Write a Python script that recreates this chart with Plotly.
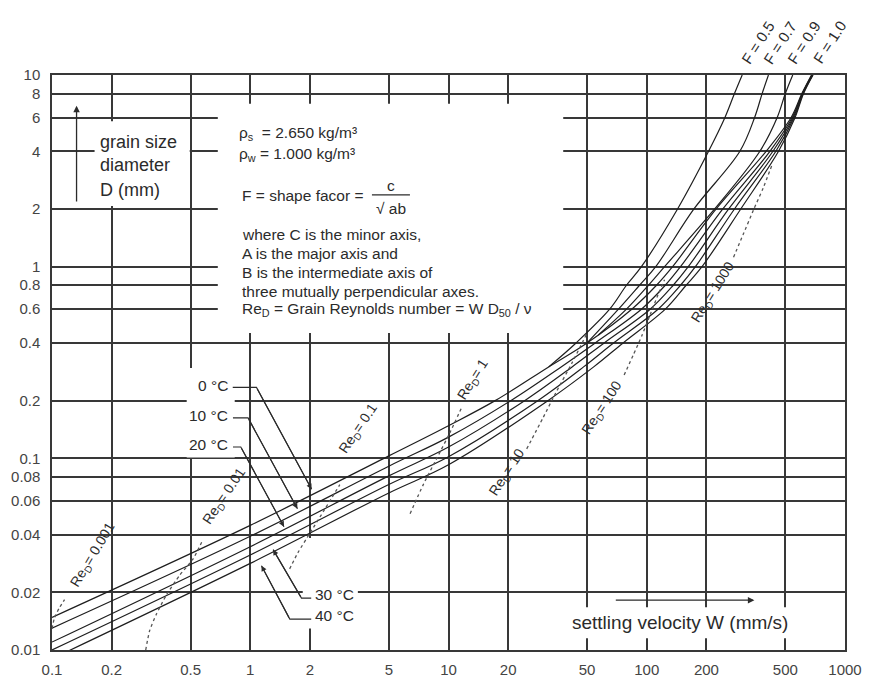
import math
import plotly.graph_objects as go

# ---------------- data ----------------
x_tick_vals = [0.1, 0.2, 0.5, 1, 2, 5, 10, 20, 50, 100, 200, 500, 1000]
x_tick_text = ["0.1", "0.2", "0.5", "1", "2", "5", "10", "20", "50", "100", "200", "500", "1000"]
y_tick_vals = [0.01, 0.02, 0.04, 0.06, 0.08, 0.1, 0.2, 0.4, 0.6, 0.8, 1, 2, 4, 6, 8, 10]
y_tick_text = ["0.01", "0.02", "0.04", "0.06", "0.08", "0.1", "0.2", "0.4", "0.6", "0.8",
               "1", "2", "4", "6", "8", "10"]

temperature_labels = ["0 °C", "10 °C", "20 °C", "30 °C", "40 °C"]

# temperature curves (F = 1.0 family): settling velocity W (mm/s) vs grain size D (mm)
t0_w = [0.1, 1, 5, 10, 17.2, 32, 50, 84, 112, 135, 224, 400, 535, 606, 678]
t0_d = [0.0148, 0.0447, 0.103, 0.148, 0.2, 0.3, 0.4, 0.6, 0.8, 1, 2, 4, 6, 8, 10]
t10_w = [0.1, 1, 5, 10, 20.6, 37, 55, 94, 124, 148, 242, 418, 542, 609, 681]
t10_d = [0.0130, 0.0392, 0.091, 0.129, 0.2, 0.3, 0.4, 0.6, 0.8, 1, 2, 4, 6, 8, 10]
t20_w = [0.1, 1, 5, 10, 24.2, 42, 61, 104, 136, 162, 259, 433, 548, 612, 684]
t20_d = [0.0110, 0.0346, 0.081, 0.1145, 0.2, 0.3, 0.4, 0.6, 0.8, 1, 2, 4, 6, 8, 10]
t30_w = [0.1, 1, 5, 10, 28.2, 48, 68, 114, 148, 176, 277, 448, 554, 615, 687]
t30_d = [0.0100, 0.0313, 0.073, 0.102, 0.2, 0.3, 0.4, 0.6, 0.8, 1, 2, 4, 6, 8, 10]
t40_w = [0.1, 1, 5, 10, 31.7, 54, 76, 124, 158, 190, 298, 462, 560, 618, 690]
t40_d = [0.0090, 0.0283, 0.066, 0.0925, 0.2, 0.3, 0.4, 0.6, 0.8, 1, 2, 4, 6, 8, 10]

# shape-factor branches
shape_labels = ["F = 0.5", "F = 0.7", "F = 0.9", "F = 1.0"]
f05_w = [32, 44, 65, 79, 94, 143, 205, 248, 277, 303]
f05_d = [0.3, 0.4, 0.6, 0.8, 1, 2, 4, 6, 8, 10]
f07_w = [50, 72, 92, 111, 173, 295, 350, 382, 411]
f07_d = [0.4, 0.6, 0.8, 1, 2, 4, 6, 8, 10]
f09_w = [57, 79, 102, 123, 220, 372, 455, 500, 545]
f09_d = [0.44, 0.6, 0.8, 1, 2, 4, 6, 8, 10]

# grain Reynolds number iso-lines (dotted)
re_labels = ["0.001", "0.01", "0.1", "1", "10", "100", "1000"]
re0001_w = [0.1, 0.103, 0.109, 0.1157]
re0001_d = [0.0129, 0.01475, 0.0166, 0.0183]
re001_w = [0.297, 0.311, 0.336, 0.378, 0.44, 0.514, 0.577]
re001_d = [0.01, 0.01264, 0.01536, 0.0194, 0.0245, 0.0298, 0.0376]
re01_w = [1.58, 1.74, 2.0, 2.38, 2.83]
re01_d = [0.0265, 0.0322, 0.0407, 0.0544, 0.0729]
re1_w = [6.40, 7.46, 8.71, 10.2, 11.7]
re1_d = [0.0514, 0.0729, 0.0996, 0.137, 0.186]
re10_w = [24.8, 30, 35.2, 42, 50]
re10_d = [0.112, 0.163, 0.225, 0.315, 0.45]
re100_w = [76.9, 85.5, 94.9, 104, 114, 123]
re100_d = [0.272, 0.346, 0.441, 0.561, 0.714, 0.855]
re1000_w = [274, 307, 345, 387, 430]
re1000_d = [1.12, 1.48, 1.97, 2.58, 3.43]

# ---------------- figure ----------------
L = math.log10
FONT = "Liberation Sans, Arial, Helvetica, sans-serif"
INK = "#2b2b2b"
GRID = "#383838"

fig = go.Figure()

curve_line = dict(color="#1e1e1e", width=1.2, shape="spline", smoothing=1.0)
for w, d in [(t0_w, t0_d), (t10_w, t10_d), (t20_w, t20_d), (t30_w, t30_d), (t40_w, t40_d),
             (f05_w, f05_d), (f07_w, f07_d), (f09_w, f09_d)]:
    fig.add_trace(go.Scatter(x=w, y=d, mode="lines", line=curve_line,
                             hoverinfo="skip", showlegend=False))

re_line = dict(color="#555555", width=1.3, dash="dot", shape="spline", smoothing=0.6)
for w, d in [(re0001_w, re0001_d), (re001_w, re001_d), (re01_w, re01_d), (re1_w, re1_d),
             (re10_w, re10_d), (re100_w, re100_d), (re1000_w, re1000_d)]:
    fig.add_trace(go.Scatter(x=w, y=d, mode="lines", line=re_line,
                             hoverinfo="skip", showlegend=False))

# leader lines for temperature labels (label end -> bend -> tip)
leaders = [
    ([0.816, 1.075, 2.04], [0.2345, 0.2345, 0.0689]),
    ([0.818, 0.975, 1.73], [0.1626, 0.1626, 0.0545]),
    ([0.818, 0.896, 1.48], [0.1146, 0.1146, 0.044]),
    ([2.03, 1.813, 1.304], [0.01865, 0.01865, 0.0334]),
    ([2.03, 1.583, 1.139], [0.01449, 0.01449, 0.02754]),
]
for lw, ld in leaders:
    fig.add_trace(go.Scatter(x=lw, y=ld, mode="lines", line=dict(color=INK, width=1.1),
                             hoverinfo="skip", showlegend=False))

annotations = []
def text(x, y, s, size=15.5, xanchor="left", yanchor="middle", angle=0, color=INK):
    annotations.append(dict(x=L(x), y=L(y), xref="x", yref="y", text=s, showarrow=False,
                            xanchor=xanchor, yanchor=yanchor, textangle=angle,
                            font=dict(family=FONT, size=size, color=color)))

def arrow(tip, tail, width=1.1):
    annotations.append(dict(x=L(tip[0]), y=L(tip[1]), ax=L(tail[0]), ay=L(tail[1]),
                            xref="x", yref="y", axref="x", ayref="y", text="",
                            showarrow=True, arrowhead=2, arrowsize=1, arrowwidth=width,
                            arrowcolor=INK, standoff=0, startstandoff=0))

# temperature labels and arrow heads
text(0.788, 0.241, temperature_labels[0], xanchor="right")
text(0.788, 0.168, temperature_labels[1], xanchor="right")
text(0.788, 0.118, temperature_labels[2], xanchor="right")
text(2.07, 0.01945, temperature_labels[3])
text(2.07, 0.01507, temperature_labels[4])
for lw, ld in leaders:
    arrow((lw[2], ld[2]), (lw[1], ld[1]))

# Reynolds labels (rotated)
re_pos = [(0.161, 0.0313, -59), (0.743, 0.0637, -56), (3.50, 0.143, -56), (13.3, 0.256, -58),
          (19.9, 0.0844, -57), (59.6, 0.183, -57), (215, 0.731, -58)]
for lab, (x, y, a) in zip(re_labels, re_pos):
    text(x, y, "Re<sub>D</sub>= " + lab, size=14, xanchor="center", angle=a)

# shape factor labels above the plot (paper coordinates)
f_pos = [0.890, 0.918, 0.948, 0.980]
for lab, xp in zip(shape_labels, f_pos):
    annotations.append(dict(x=xp, y=1.057, xref="paper", yref="paper", text=lab,
                            showarrow=False, xanchor="center", yanchor="middle",
                            textangle=-57, font=dict(family=FONT, size=15, color=INK)))

# info box text
text(0.855, 4.95, "ρ<sub>s</sub>  = 2.650 kg/m³")
text(0.855, 3.83, "ρ<sub>w</sub> = 1.000 kg/m³")
text(0.885, 2.34, "F = shape facor = ")
text(5.12, 2.65, "c", xanchor="center")
text(5.15, 2.02, "√ ab", xanchor="center")
text(0.885, 1.48, "where C is the minor axis,")
text(0.885, 1.174, "A is the major axis and")
text(0.885, 0.930, "B is the intermediate axis of")
text(0.885, 0.740, "three mutually perpendicular axes.")
text(0.885, 0.596, "Re<sub>D</sub> = Grain Reynolds number = W D<sub>50</sub> / ν")

# axis captions
text(0.170, 4.49, "grain size", size=18)
text(0.170, 3.38, "diameter", size=18)
text(0.170, 2.52, "D (mm)", size=18)
arrow((0.133, 6.91), (0.133, 2.146), width=1.3)
text(147.5, 0.01393, "settling velocity W (mm/s)", size=19, xanchor="center")
arrow((349, 0.0182), (68.6, 0.0182), width=1.3)

# white boxes that interrupt the grid behind text
boxes = [
    (0.686, 37.9, 0.451, 7.08),     # info box
    (0.164, 0.495, 2.07, 5.74),     # grain size caption
    (0.478, 0.835, 0.101, 0.296),   # 0/10/20 degC labels
    (1.84, 3.49, 0.01294, 0.0384),  # 30/40 degC labels
    (38.7, 575, 0.0115, 0.0167),    # settling velocity caption
]
shapes = []
for x0, x1, y0, y1 in boxes:
    shapes.append(dict(type="rect", xref="x", yref="y", x0=x0, x1=x1, y0=y0, y1=y1,
                       fillcolor="white", line=dict(width=0), layer="between"))
# fraction bar
shapes.append(dict(type="line", xref="x", yref="y", x0=4.11, x1=6.39, y0=2.37, y1=2.37,
                   line=dict(color=INK, width=1.1)))

axis_common = dict(type="log", showgrid=True, gridcolor=GRID, gridwidth=1.5,
                   showline=True, mirror=True, linecolor=GRID, linewidth=1.5,
                   ticks="", zeroline=False, automargin=False,
                   tickfont=dict(family=FONT, size=15, color="#444"))

fig.update_layout(
    width=869, height=679,
    margin=dict(l=52, r=24, t=75, b=29, autoexpand=False),
    paper_bgcolor="white", plot_bgcolor="white",
    showlegend=False,
    xaxis=dict(range=[-1, 3], tickvals=x_tick_vals, ticktext=x_tick_text,
               ticklabelstandoff=5, **axis_common),
    yaxis=dict(range=[-2, 1], tickvals=y_tick_vals, ticktext=y_tick_text,
               ticklabelstandoff=7, **axis_common),
    annotations=annotations,
    shapes=shapes,
)

fig.write_html("out.html", config={"displayModeBar": False},
               post_script="document.body.style.margin='0';")
